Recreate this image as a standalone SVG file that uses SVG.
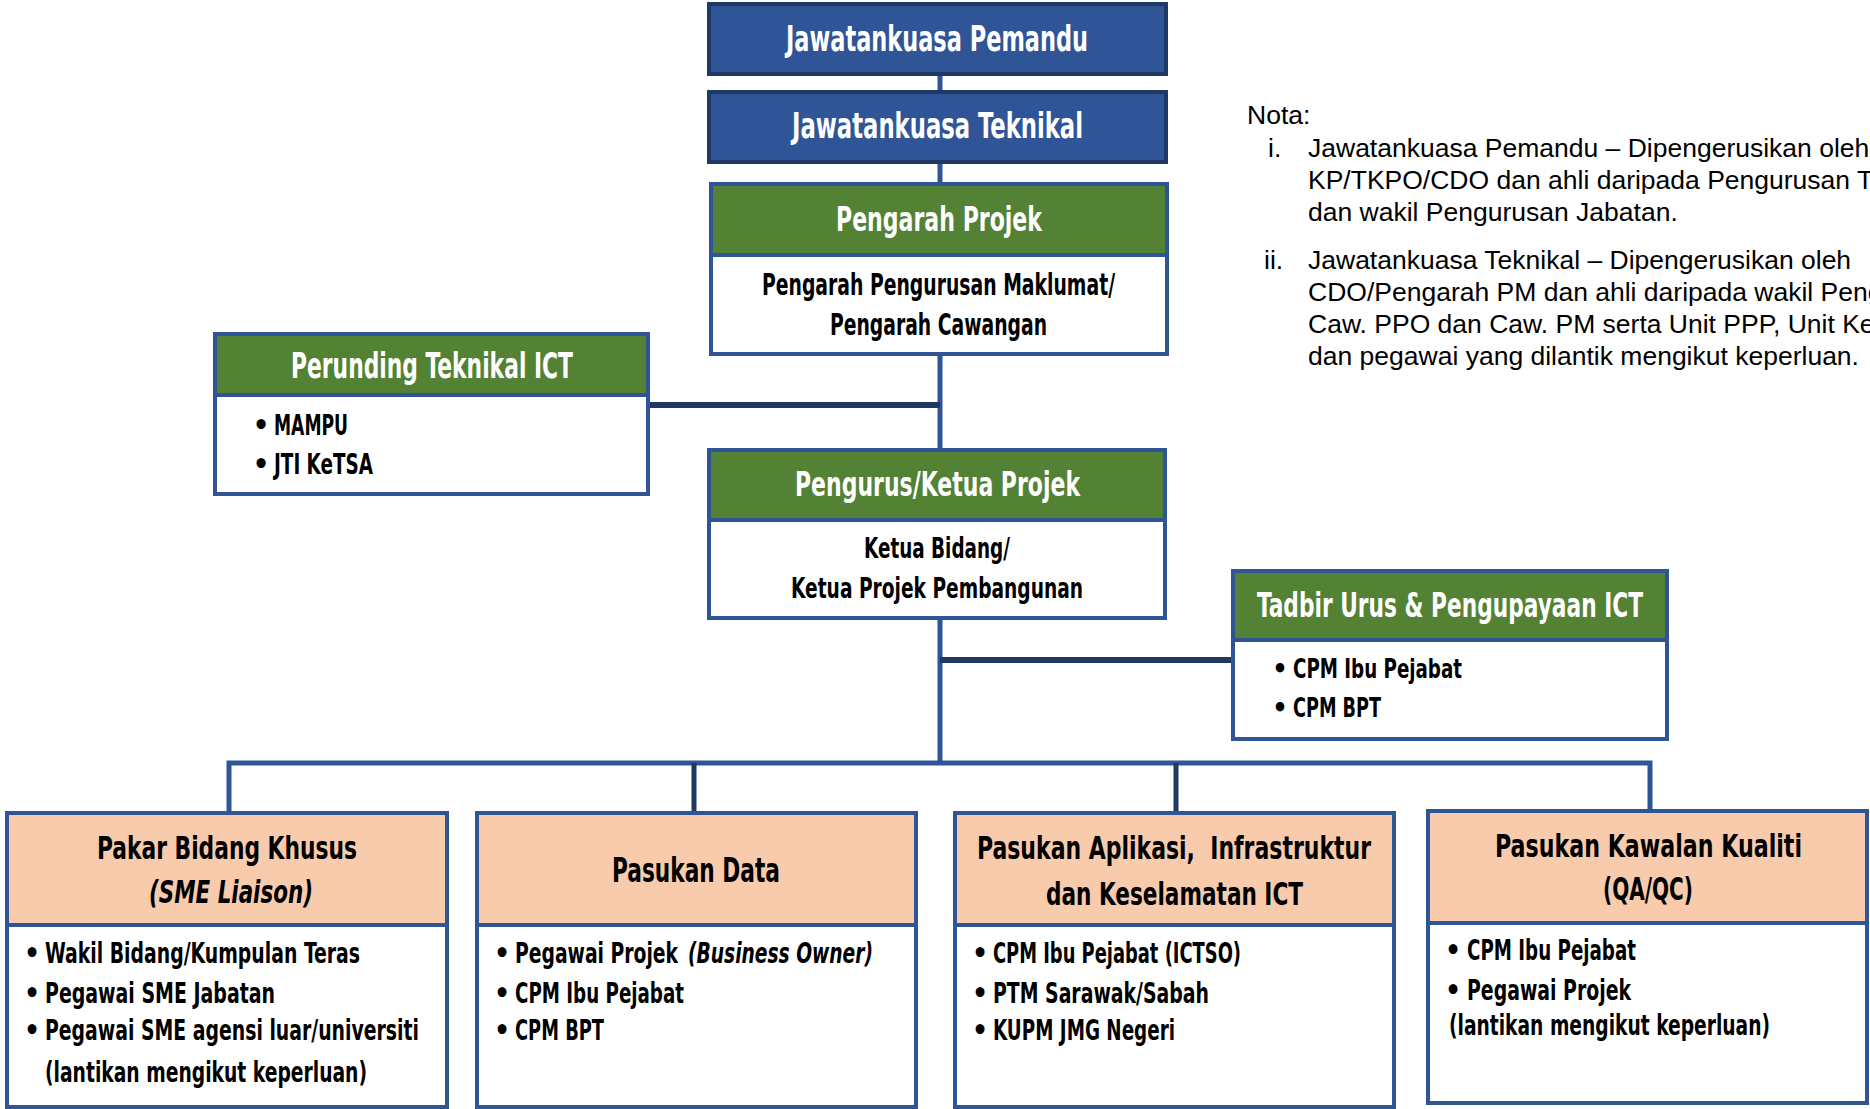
<svg xmlns="http://www.w3.org/2000/svg" width="1870" height="1109" viewBox="0 0 1870 1109">
<style>
.t{font-family:"DejaVu Sans Condensed","DejaVu Sans","Liberation Sans",sans-serif;font-stretch:condensed;font-weight:bold;}
.w{fill:#ffffff;}
.k{fill:#000000;}
.it{font-style:italic;}
.s35{font-size:35px;}
.s34{font-size:34px;}
.s32{font-size:32px;}
.s30{font-size:30px;}
.s29{font-size:29px;}
.s28{font-size:28px;}
.s27{font-size:27px;}
.bl{text-anchor:middle;}
.navy{fill:#2F5597;stroke:#203864;stroke-width:4;}
.green{fill:#548235;}
.peach{fill:#F8CBAD;}
.body{fill:#ffffff;}
.frame{fill:none;stroke:#2F5597;stroke-width:4;}
.div{stroke:#2F5597;stroke-width:4;}
.c{fill:none;stroke:#2F5597;stroke-width:5;}
.cd{fill:none;stroke:#203864;stroke-width:6;}
.cd5{fill:none;stroke:#203864;stroke-width:5;}
.nota{font-family:"Liberation Sans",Arial,sans-serif;font-size:26.5px;fill:#000;}
</style>
<rect width="1870" height="1109" fill="#ffffff"/>
<g id="connectors">
<path class="c" d="M940 74V92"/>
<path class="c" d="M940 162V184"/>
<path class="c" d="M940 354V450"/>
<path class="cd" d="M648 405H940"/>
<path class="c" d="M940 618V763"/>
<path class="cd" d="M940 660H1233"/>
<path class="c" d="M229 813V763H1650V811"/>
<path class="cd5" d="M694 763V813"/>
<path class="cd5" d="M1176 763V813"/>
</g>
<g id="jawatankuasa-pemandu">
<rect class="navy" x="709" y="4" width="457" height="70"/>
<text class="t w s35" x="786" y="51" textLength="302" lengthAdjust="spacingAndGlyphs">Jawatankuasa Pemandu</text>
</g>
<g id="jawatankuasa-teknikal">
<rect class="navy" x="709" y="92" width="457" height="70"/>
<text class="t w s35" x="792" y="138" textLength="291" lengthAdjust="spacingAndGlyphs">Jawatankuasa Teknikal</text>
</g>
<g id="pengarah-projek">
<rect class="body" x="711" y="184" width="456" height="170"/>
<rect class="green" x="711" y="184" width="456" height="71"/>
<line class="div" x1="711" y1="255" x2="1167" y2="255"/>
<rect class="frame" x="711" y="184" width="456" height="170"/>
<text class="t w s34" x="836" y="231" textLength="206" lengthAdjust="spacingAndGlyphs">Pengarah Projek</text>
<text class="t k s30" x="762" y="295" textLength="353" lengthAdjust="spacingAndGlyphs">Pengarah Pengurusan Maklumat/</text>
<text class="t k s30" x="830" y="335" textLength="217" lengthAdjust="spacingAndGlyphs">Pengarah Cawangan</text>
</g>
<g id="perunding-teknikal-ict">
<rect class="body" x="215" y="334" width="433" height="160"/>
<rect class="green" x="215" y="334" width="433" height="61"/>
<line class="div" x1="215" y1="395" x2="648" y2="395"/>
<rect class="frame" x="215" y="334" width="433" height="160"/>
<text class="t w s35" x="291" y="378" textLength="282" lengthAdjust="spacingAndGlyphs">Perunding Teknikal ICT</text>
<text class="t k s29 bl" x="261" y="435">•</text>
<text class="t k s29" x="274" y="435" textLength="74" lengthAdjust="spacingAndGlyphs">MAMPU</text>
<text class="t k s29 bl" x="261" y="474">•</text>
<text class="t k s29" x="274" y="474" textLength="99" lengthAdjust="spacingAndGlyphs">JTI KeTSA</text>
</g>
<g id="pengurus-ketua-projek">
<rect class="body" x="709" y="450" width="456" height="168"/>
<rect class="green" x="709" y="450" width="456" height="70"/>
<line class="div" x1="709" y1="520" x2="1165" y2="520"/>
<rect class="frame" x="709" y="450" width="456" height="168"/>
<text class="t w s34" x="795" y="496" textLength="285" lengthAdjust="spacingAndGlyphs">Pengurus/Ketua Projek</text>
<text class="t k s29" x="864" y="558" textLength="146" lengthAdjust="spacingAndGlyphs">Ketua Bidang/</text>
<text class="t k s29" x="791" y="598" textLength="292" lengthAdjust="spacingAndGlyphs">Ketua Projek Pembangunan</text>
</g>
<g id="tadbir-urus">
<rect class="body" x="1233" y="571" width="434" height="168"/>
<rect class="green" x="1233" y="571" width="434" height="69"/>
<line class="div" x1="1233" y1="640" x2="1667" y2="640"/>
<rect class="frame" x="1233" y="571" width="434" height="168"/>
<text class="t w s34" x="1257" y="617" textLength="386" lengthAdjust="spacingAndGlyphs">Tadbir Urus &amp; Pengupayaan ICT</text>
<text class="t k s27 bl" x="1280" y="678">•</text>
<text class="t k s27" x="1293" y="678" textLength="169" lengthAdjust="spacingAndGlyphs">CPM Ibu Pejabat</text>
<text class="t k s27 bl" x="1280" y="717">•</text>
<text class="t k s27" x="1293" y="717" textLength="88" lengthAdjust="spacingAndGlyphs">CPM BPT</text>
</g>
<g id="pakar-bidang-khusus">
<rect class="body" x="7" y="813" width="440" height="294"/>
<rect class="peach" x="7" y="813" width="440" height="112"/>
<line class="div" x1="7" y1="925" x2="447" y2="925"/>
<rect class="frame" x="7" y="813" width="440" height="294"/>
<text class="t k s32" x="97" y="859" textLength="260" lengthAdjust="spacingAndGlyphs">Pakar Bidang Khusus</text>
<text class="t k s32 it" x="149" y="903" textLength="164" lengthAdjust="spacingAndGlyphs">(SME Liaison)</text>
<text class="t k s28 bl" x="32" y="963">•</text>
<text class="t k s28" x="45" y="963" textLength="315" lengthAdjust="spacingAndGlyphs">Wakil Bidang/Kumpulan Teras</text>
<text class="t k s28 bl" x="32" y="1003">•</text>
<text class="t k s28" x="45" y="1003" textLength="230" lengthAdjust="spacingAndGlyphs">Pegawai SME Jabatan</text>
<text class="t k s28 bl" x="32" y="1040">•</text>
<text class="t k s28" x="45" y="1040" textLength="374" lengthAdjust="spacingAndGlyphs">Pegawai SME agensi luar/universiti</text>
<text class="t k s28" x="45" y="1082" textLength="322" lengthAdjust="spacingAndGlyphs">(lantikan mengikut keperluan)</text>
</g>
<g id="pasukan-data">
<rect class="body" x="477" y="813" width="439" height="294"/>
<rect class="peach" x="477" y="813" width="439" height="112"/>
<line class="div" x1="477" y1="925" x2="916" y2="925"/>
<rect class="frame" x="477" y="813" width="439" height="294"/>
<text class="t k s34" x="612" y="882" textLength="168" lengthAdjust="spacingAndGlyphs">Pasukan Data</text>
<text class="t k s28 bl" x="502" y="963">•</text>
<text class="t k s28" x="515" y="963" textLength="163" lengthAdjust="spacingAndGlyphs">Pegawai Projek</text>
<text class="t k s28 it" x="688" y="963" textLength="185" lengthAdjust="spacingAndGlyphs">(Business Owner)</text>
<text class="t k s28 bl" x="502" y="1003">•</text>
<text class="t k s28" x="515" y="1003" textLength="169" lengthAdjust="spacingAndGlyphs">CPM Ibu Pejabat</text>
<text class="t k s28 bl" x="502" y="1040">•</text>
<text class="t k s28" x="515" y="1040" textLength="89" lengthAdjust="spacingAndGlyphs">CPM BPT</text>
</g>
<g id="pasukan-aplikasi">
<rect class="body" x="955" y="813" width="439" height="294"/>
<rect class="peach" x="955" y="813" width="439" height="112"/>
<line class="div" x1="955" y1="925" x2="1394" y2="925"/>
<rect class="frame" x="955" y="813" width="439" height="294"/>
<text class="t k s32" x="977" y="859" textLength="394" lengthAdjust="spacingAndGlyphs" xml:space="preserve">Pasukan Aplikasi,  Infrastruktur</text>
<text class="t k s32" x="1046" y="905" textLength="257" lengthAdjust="spacingAndGlyphs">dan Keselamatan ICT</text>
<text class="t k s28 bl" x="980" y="963">•</text>
<text class="t k s28" x="993" y="963" textLength="248" lengthAdjust="spacingAndGlyphs">CPM Ibu Pejabat (ICTSO)</text>
<text class="t k s28 bl" x="980" y="1003">•</text>
<text class="t k s28" x="993" y="1003" textLength="216" lengthAdjust="spacingAndGlyphs">PTM Sarawak/Sabah</text>
<text class="t k s28 bl" x="980" y="1040">•</text>
<text class="t k s28" x="993" y="1040" textLength="182" lengthAdjust="spacingAndGlyphs">KUPM JMG Negeri</text>
</g>
<g id="pasukan-kawalan-kualiti">
<rect class="body" x="1428" y="811" width="439" height="292"/>
<rect class="peach" x="1428" y="811" width="439" height="112"/>
<line class="div" x1="1428" y1="923" x2="1867" y2="923"/>
<rect class="frame" x="1428" y="811" width="439" height="292"/>
<text class="t k s32" x="1495" y="857" textLength="307" lengthAdjust="spacingAndGlyphs">Pasukan Kawalan Kualiti</text>
<text class="t k s32" x="1603" y="900" textLength="90" lengthAdjust="spacingAndGlyphs">(QA/QC)</text>
<text class="t k s28 bl" x="1453" y="960">•</text>
<text class="t k s28" x="1467" y="960" textLength="169" lengthAdjust="spacingAndGlyphs">CPM Ibu Pejabat</text>
<text class="t k s28 bl" x="1453" y="1000">•</text>
<text class="t k s28" x="1467" y="1000" textLength="164" lengthAdjust="spacingAndGlyphs">Pegawai Projek</text>
<text class="t k s28" x="1449" y="1035" textLength="321" lengthAdjust="spacingAndGlyphs">(lantikan mengikut keperluan)</text>
</g>
<g id="nota">
<text class="nota" x="1247" y="124">Nota:</text>
<text class="nota" x="1268" y="157">i.</text>
<text class="nota" x="1308" y="157">Jawatankuasa Pemandu – Dipengerusikan oleh</text>
<text class="nota" x="1308" y="189">KP/TKPO/CDO dan ahli daripada Pengurusan T</text>
<text class="nota" x="1308" y="221">dan wakil Pengurusan Jabatan.</text>
<text class="nota" x="1264" y="269">ii.</text>
<text class="nota" x="1308" y="269">Jawatankuasa Teknikal – Dipengerusikan oleh</text>
<text class="nota" x="1308" y="301">CDO/Pengarah PM dan ahli daripada wakil Peng</text>
<text class="nota" x="1308" y="333">Caw. PPO dan Caw. PM serta Unit PPP, Unit Ke</text>
<text class="nota" x="1308" y="365">dan pegawai yang dilantik mengikut keperluan.</text>
</g>
</svg>
